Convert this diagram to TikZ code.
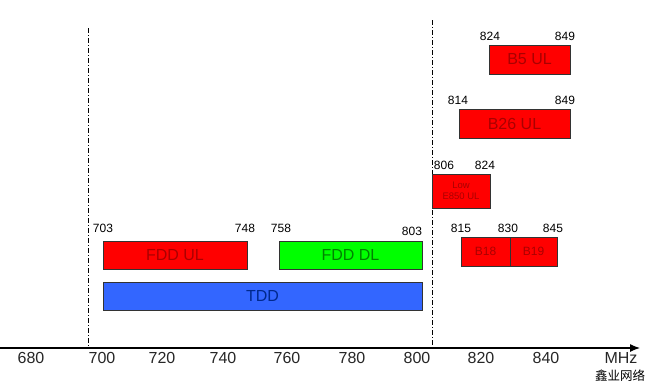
\documentclass[tikz,border=0pt]{standalone}
\usepackage{fontspec}
\setmainfont{Liberation Sans}
\newfontfamily\cjkfont{Noto Sans CJK SC}
\usepackage{tikz}
\usetikzlibrary{arrows.meta,positioning}
\definecolor{myred}{RGB}{255,0,0}
\definecolor{mygreen}{RGB}{0,255,0}
\definecolor{myblue}{RGB}{51,102,255}
\definecolor{myredtext}{RGB}{170,0,0}
\definecolor{mygreentext}{RGB}{0,130,0}
\definecolor{mybluetext}{RGB}{0,40,140}
\tikzstyle{band}=[draw=black!80,line width=0.8pt,inner sep=0pt,font=\fontsize{16}{16}\selectfont]
\tikzstyle{redband}=[band,fill=myred,text=myredtext]
\tikzstyle{freq}=[inner sep=0pt,font=\fontsize{12}{12}\selectfont]
\tikzstyle{tick}=[inner sep=0pt,text=black!85,font=\fontsize{16}{16}\selectfont]
\tikzstyle{divider}=[black,line width=0.8pt,dash pattern=on 5pt off 2pt on 1pt off 2pt]

\begin{document}
\begin{tikzpicture}[x=1pt,y=-1pt]
\useasboundingbox (0,0) rectangle (648,388);
% boundaries
\coordinate (d1top) at (88,28);
\coordinate (d1bot) at (88,348);
\coordinate (d2top) at (432,20);
\coordinate (d2bot) at (432,348);
\draw[divider] (d1top) -- (d1bot);
\draw[divider] (d2top) -- (d2bot);
% bands
\draw (175,255) node [band, fill=myred, text=myredtext, minimum width=144pt, minimum height=28pt] (fddul) {FDD UL};
\draw (350.5,255) node [band, fill=mygreen, text=mygreentext, minimum width=143pt, minimum height=28pt] (fdddl) {FDD DL};
\draw (262.5,296) node [band, fill=myblue, text=mybluetext, minimum width=319pt, minimum height=28pt] (tdd) {TDD};
\draw (461,191) node [redband, minimum width=58pt, minimum height=34pt, align=center, font=\fontsize{9.5}{11}\selectfont] (low) {Low\\E850 UL};
\draw (485.5,251.5) node [redband, minimum width=49pt, minimum height=29pt, font=\fontsize{12}{12}\selectfont] (b18) {B18};
\draw (533.5,251.5) node [redband, minimum width=47pt, minimum height=29pt, font=\fontsize{12}{12}\selectfont] (b19) {B19};
\draw (514.5,123.5) node [redband, minimum width=111pt, minimum height=29pt] (b26) {B26 UL};
\draw (529.5,59.5) node [redband, minimum width=81pt, minimum height=29pt] (b5) {B5 UL};
% frequencies
\draw (103,228) node [freq] (f703) {703};
\draw (245,228) node [freq] (f748) {748};
\draw (281,228) node [freq] (f758) {758};
\draw (412,231) node [freq] (f803) {803};
\draw (444,165) node [freq] (f806) {806};
\draw (485,165) node [freq] (f824a) {824};
\draw (461,228) node [freq] (f815) {815};
\draw (508,228) node [freq] (f830) {830};
\draw (553,228) node [freq] (f845) {845};
\draw (458,100) node [freq] (f814) {814};
\draw (565,100) node [freq] (f849a) {849};
\draw (490,36) node [freq] (f824b) {824};
\draw (565,36) node [freq] (f849b) {849};
% axis
\coordinate (axstart) at (0,348);
\coordinate (axend) at (640,348);
\draw[line width=1.2pt,-{Latex[length=10pt,width=8pt]}] (axstart) -- (axend);
\foreach \f/\x in {680/31,700/102,720/162,740/223,760/287,780/352,800/417,820/481,840/546}
  \draw (\x,358) node [tick] (t\f) {\f};
\draw (621,358) node [tick] (mhz) {MHz};
\draw (620,376) node [inner sep=0pt,font=\cjkfont\fontsize{12.5}{12.5}\selectfont] (mark) {鑫业网络};
\end{tikzpicture}
\end{document}
